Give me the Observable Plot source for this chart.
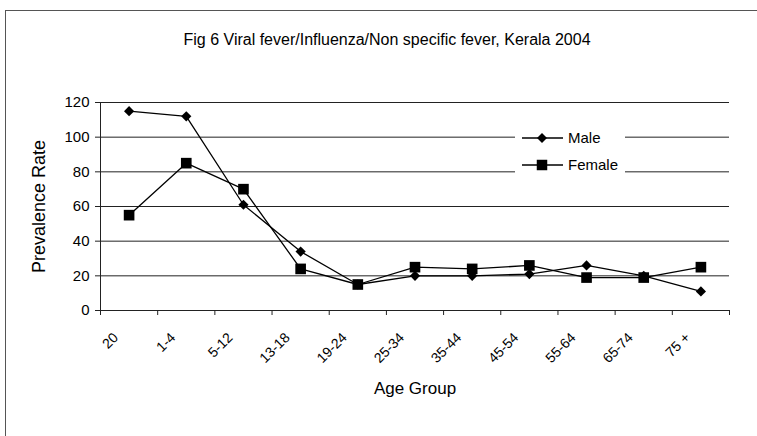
<!DOCTYPE html>
<html>
<head>
<meta charset="utf-8">
<script src="https://cdn.jsdelivr.net/npm/d3@7"></script>
<script src="https://cdn.jsdelivr.net/npm/@observablehq/plot@0.6"></script>
<style>
  html, body { margin: 0; padding: 0; background: #fff; }
  svg { font-family: "Liberation Sans", Arial, sans-serif; display: block; }
</style>
</head>
<body>
<div id="chart"></div>
<script>
const ages = ["20", "1-4", "5-12", "13-18", "19-24", "25-34", "35-44", "45-54", "55-64", "65-74", "75 +"];
const male = [115, 112, 61, 34, 15, 20, 20, 21, 26, 20, 11];
const female = [55, 85, 70, 24, 15, 25, 24, 26, 19, 19, 25];
const yTicks = [0, 20, 40, 60, 80, 100, 120];
const seriesNames = ["Male", "Female"];
const titleText = "Fig 6 Viral fever/Influenza/Non specific fever, Kerala 2004";

const rows = [];
ages.forEach((a, i) => {
  rows.push({series: "Male", i: i + 0.5, age: a, value: male[i]});
  rows.push({series: "Female", i: i + 0.5, age: a, value: female[i]});
});
const maleRows = rows.filter(d => d.series === "Male");
const femaleRows = rows.filter(d => d.series === "Female");
const bounds = d3.range(ages.length + 1);

const plot = Plot.plot({
  width: 757,
  height: 436,
  marginLeft: 100,
  marginRight: 28,
  marginTop: 102,
  marginBottom: 126,
  style: {fontFamily: "Liberation Sans, Arial, sans-serif", background: "#fff"},
  x: {type: "linear", domain: [0, ages.length], axis: null},
  y: {domain: [0, 120], axis: null},
  marks: [
    Plot.ruleY(yTicks, {stroke: "#222", strokeWidth: 1}),
    Plot.ruleX([0], {stroke: "#222"}),
    Plot.axisY({ticks: yTicks, tickSize: 5, tickPadding: 6, fontSize: 15, label: null, stroke: "#222", fill: "#000"}),
    Plot.axisX({ticks: bounds, tickSize: 5, tickFormat: () => "", label: null, stroke: "#222"}),
    Plot.text(ages, {x: (d, i) => i + 0.5, frameAnchor: "bottom", dy: 28, dx: -10, rotate: -45, textAnchor: "end", fontSize: 14, fill: "#000"}),
    Plot.line(maleRows, {x: "i", y: "value", stroke: "#000", strokeWidth: 1.3}),
    Plot.line(femaleRows, {x: "i", y: "value", stroke: "#000", strokeWidth: 1.3}),
    Plot.dot(maleRows, {x: "i", y: "value", symbol: "diamond2", r: 4.6, fill: "#000", stroke: "none"}),
    Plot.dot(femaleRows, {x: "i", y: "value", symbol: "square", r: 6, fill: "#000", stroke: "none"}),
    Plot.text([titleText], {frameAnchor: "top", lineAnchor: "middle", dx: -28, dy: -63, fontSize: 16, fill: "#000"}),
    Plot.text(["Age Group"], {frameAnchor: "bottom", lineAnchor: "middle", dy: 78, fontSize: 17, fill: "#000"}),
    Plot.text(["Prevalence Rate"], {frameAnchor: "left", textAnchor: "middle", lineAnchor: "middle", dx: -61, rotate: -90, fontSize: 18, fill: "#000"})
  ]
});

const svg = d3.select(plot);
// outer chart border
svg.insert("rect", ":first-child")
  .attr("x", 5.5).attr("y", 10.5).attr("width", 800).attr("height", 500)
  .attr("fill", "#fff").attr("stroke", "#555").attr("stroke-width", 1);

// legend
const lg = svg.append("g").attr("text-anchor", "start");
lg.append("rect").attr("x", 515).attr("y", 124).attr("width", 110).attr("height", 56).attr("fill", "#fff");
const symbols = [d3.symbol(d3.symbolDiamond2, 64), d3.symbol(d3.symbolSquare, 110)];
seriesNames.forEach((name, k) => {
  const yy = 138 + k * 27;
  lg.append("line").attr("x1", 522).attr("x2", 563).attr("y1", yy).attr("y2", yy).attr("stroke", "#000").attr("stroke-width", 1.3);
  lg.append("path").attr("d", symbols[k]()).attr("transform", `translate(542,${yy})`).attr("fill", "#000");
  lg.append("text").attr("x", 568).attr("y", yy).attr("dy", "0.36em").attr("font-size", 15).attr("fill", "#000").text(name);
});

document.getElementById("chart").appendChild(plot);
</script>
</body>
</html>
